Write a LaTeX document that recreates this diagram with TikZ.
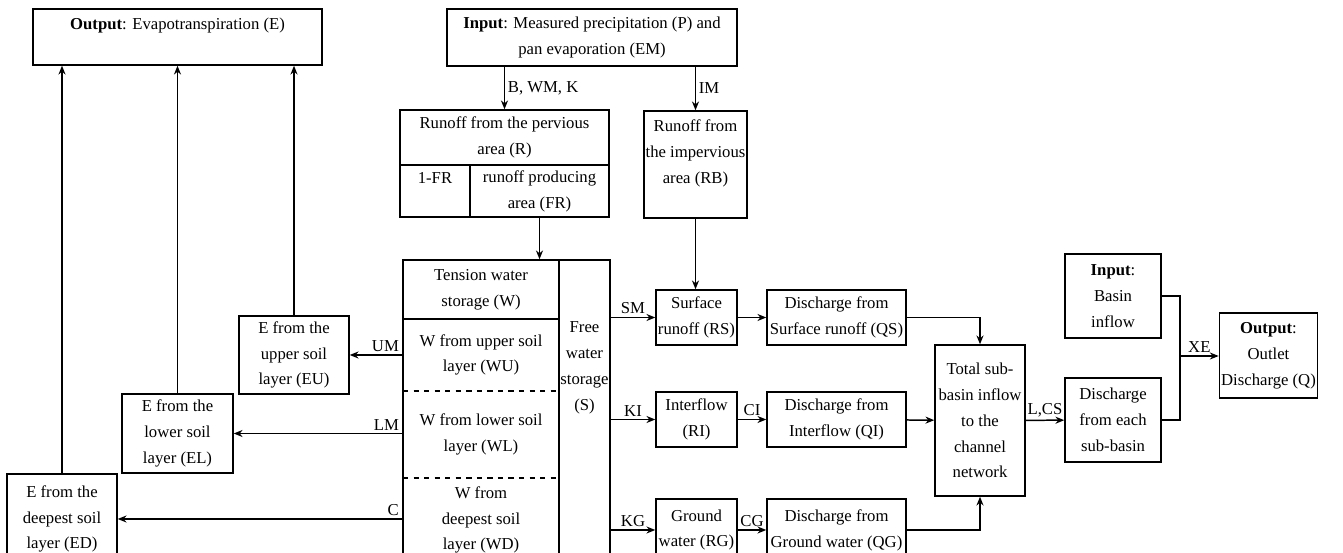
\documentclass[tikz,border=0pt]{standalone}
\usepackage{fontspec}
\setmainfont{Liberation Serif}
\usepackage{tikz}
\usetikzlibrary{positioning, arrows.meta}
\tikzset{
>={Stealth[length=5pt, width=4pt]}, % small filled arrow heads
box/.style={draw, align=center, inner sep=1pt}, % every block of the chart
txt/.style={align=center, inner sep=1pt, outer sep=0pt}, % text with no frame
lbl/.style={inner sep=1.5pt}, % labels on the arrows
sz/.style 2 args={minimum width=#1*0.02cm, minimum height=#2*0.02cm}, % block size in pixels of the sketch
}

\begin{document}
\begin{tikzpicture}[x=0.02cm, y=-0.02cm, line width=0.85pt,
    every node/.style={font=\fontsize{9.5}{14.7}\selectfont}]
    \useasboundingbox (0,0) rectangle (1343,553);
    \clip (0,0) rectangle (1343,553);

    % inputs and outputs on top
    \node[box, sz={289}{56}] (outE) at (177.5,37) {\textbf{Output}: Evapotranspiration (E)\\ \mbox{}};
    \node[box, sz={290}{57}] (inP) at (592,37.5) {\textbf{Input}: Measured precipitation (P) and\\pan evaporation (EM)};

    % runoff generation
    \node[box, sz={209}{55}] (runR) at (504.5,137.5) {Runoff from the pervious\\area (R)};
    \node[box, sz={70}{52}] (oneFR) at (435,191) {1-FR\\ \mbox{}};
    \node[box, sz={139}{52}] (FR) at (539.5,191) {runoff producing\\area (FR)};
    \node[box, sz={103}{107}] (runRB) at (695.5,164.5) {Runoff from\\the impervious\\area (RB)\\ \mbox{}};

    % soil moisture column
    \node[box, sz={156}{302}] (soil) at (481,411) {};
    \node[txt, sz={156}{59}] (W) at (481,289.5) {Tension water\\storage (W)};
    \node[txt, sz={156}{72}] (WU) at (481,355) {W from upper soil\\layer (WU)};
    \node[txt, sz={156}{87}] (WL) at (481,434.5) {W from lower soil\\layer (WL)};
    \node[txt, sz={156}{84}] (WD) at (481,520) {W from\\deepest soil\\layer (WD)};
    \draw[line width=1.2pt] (W.south west) -- (W.south east);
    \draw[dashed] (WU.south west) -- (WU.south east);
    \draw[dashed] (WL.south west) -- (WL.south east);
    \node[box, sz={51}{302}] (S) at (584.5,411) {};
    \node[txt] (Stxt) at (584.5,368) {Free\\water\\storage\\(S)};

    % evaporation boxes
    \node[box, sz={110}{78}] (EU) at (294,355) {E from the\\upper soil\\layer (EU)};
    \node[box, sz={111}{79}] (EL) at (177.5,433.5) {E from the\\lower soil\\layer (EL)};
    \node[box, sz={110}{90}] (ED) at (62,519) {E from the\\deepest soil\\layer (ED)};

    % runoff components
    \node[box, sz={81}{55}] (RS) at (696.5,317.5) {Surface\\runoff (RS)};
    \node[box, sz={81}{55}] (RI) at (696.5,419.5) {Interflow\\(RI)};
    \node[box, sz={81}{62}] (RG) at (696.5,530) {Ground\\water (RG)};
    \node[box, sz={139}{55}] (QS) at (836.5,317.5) {Discharge from\\Surface runoff (QS)};
    \node[box, sz={139}{55}] (QI) at (836.5,419.5) {Discharge from\\Interflow (QI)};
    \node[box, sz={139}{62}] (QG) at (836.5,530) {Discharge from\\Ground water (QG)};

    % channel routing
    \node[box, sz={90}{151}] (Tot) at (980,420.5) {Total sub-\\basin inflow\\to the\\channel\\network};
    \node[box, sz={96}{84}] (each) at (1113,420) {Discharge\\from each\\sub-basin};
    \node[box, sz={96}{84}] (inB) at (1113,296) {\textbf{Input}:\\Basin\\inflow};
    \node[box, sz={95}{85}] (outQ) at (1268.5,355.5) {\textbf{Output}:\\Outlet\\Discharge (Q)};
    \coordinate (jn) at (1180,356);

    % rainfall split
    \draw[->] (inP.south -| runR.north) -- (runR.north) node[lbl, midway, right] {B, WM, K};
    \draw[->] (inP.south -| runRB.north) -- (runRB.north) node[lbl, midway, right] {IM};
    \draw[->] (FR.south) -- (FR.south |- soil.north);
    \draw[->] (runRB.south) -- (runRB.south |- RS.north);

    % evaporation
    \draw[->] (soil.west |- EU.east) -- (EU.east) node[lbl, pos=0, above left] {UM};
    \draw[->] (soil.west |- EL.east) -- (EL.east) node[lbl, pos=0, above left] {LM};
    \draw[->] (soil.west |- ED.east) -- (ED.east) node[lbl, pos=0, above left] {C};
    \foreach \e in {EU, EL, ED}
        \draw[->] (\e.north) -- (\e.north |- outE.south);

    % free water outflows
    \draw[->] (S.east |- RS.west) -- (RS.west) node[lbl, midway, above] {SM};
    \draw[->] (S.east |- RI.west) -- (RI.west) node[lbl, midway, above] {KI};
    \draw[->] (S.east |- RG.west) -- (RG.west) node[lbl, midway, above] {KG};
    \draw[->] (RS) -- (QS);
    \draw[->] (RI) -- (QI) node[lbl, midway, above] {CI};
    \draw[->] (RG) -- (QG) node[lbl, midway, above] {CG};

    % to the outlet
    \draw[->] (QS.east) -| (Tot.north);
    \draw[->] (QI) -- (Tot);
    \draw[->] (QG.east) -| (Tot.south);
    \draw[->] (Tot) -- (each) node[lbl, midway, above] {L,CS};
    \draw (inB.east) -| (jn) |- (each.east);
    \draw[->] (jn) -- (jn -| outQ.west) node[lbl, midway, above] {XE};
\end{tikzpicture}
\end{document}
